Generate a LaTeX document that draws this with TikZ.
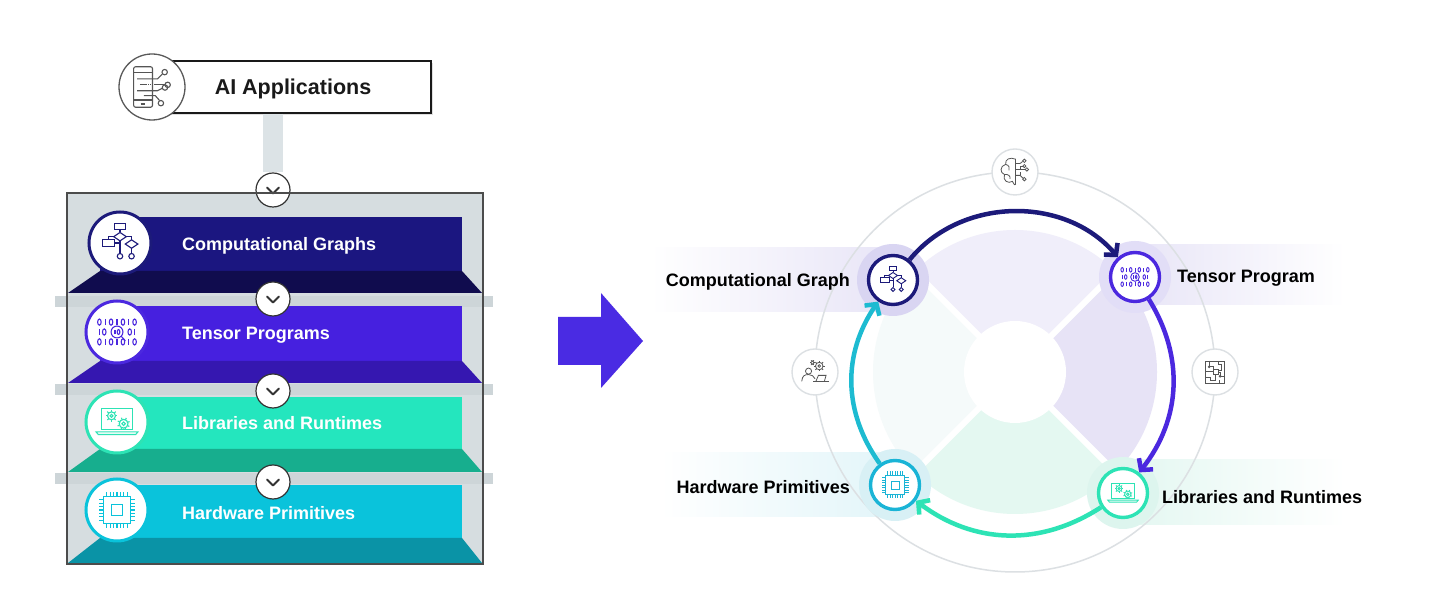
\documentclass[tikz,border=0pt]{standalone}
\usepackage{fontspec}
\setmainfont{Liberation Sans}
\usetikzlibrary{arrows.meta,shadows,calc}

\definecolor{navyc}{HTML}{1C1A7A}
\definecolor{purplec}{HTML}{4B28DF}
\definecolor{mintc}{HTML}{2DE3B5}
\definecolor{cyanc}{HTML}{1AB4D6}
\definecolor{lonec}{HTML}{1B1680}
\definecolor{lonet}{HTML}{100C4E}
\definecolor{ltwoc}{HTML}{4620DF}
\definecolor{ltwot}{HTML}{3517B0}
\definecolor{lthreec}{HTML}{24E6BE}
\definecolor{lthreet}{HTML}{17AE8E}
\definecolor{lfourc}{HTML}{0AC3DB}
\definecolor{lfourt}{HTML}{0A93A6}
\definecolor{framegray}{HTML}{D6DDE0}
\definecolor{bargray}{HTML}{CDD5D8}
\definecolor{connbar}{HTML}{DCE3E6}
\definecolor{bigarrowc}{HTML}{4A2BE3}
\definecolor{ringgray}{HTML}{DCE0E3}
\definecolor{quadtop}{HTML}{F0EEFA}
\definecolor{quadright}{HTML}{E7E3F6}
\definecolor{quadbottom}{HTML}{E4F8F1}
\definecolor{quadleft}{HTML}{F5FAFA}
\definecolor{bandlav}{HTML}{E8E5F7}
\definecolor{bandmint}{HTML}{E3F7F1}
\definecolor{bandcyan}{HTML}{E2F5F9}
\definecolor{halonavy}{HTML}{D9D5F2}
\definecolor{halopurple}{HTML}{E2DEF7}
\definecolor{halomint}{HTML}{DDF5EE}
\definecolor{halocyan}{HTML}{D8F0F5}
\definecolor{icongray}{HTML}{555555}

\tikzset{
  framebox/.style={rectangle, fill=framegray, minimum width=416pt, minimum height=371pt, inner sep=0pt},
  frameborder/.style={draw=black!70, line width=2.5pt},
  chev/.style={circle, draw=black!80, line width=1.2pt, fill=white, minimum size=34pt, inner sep=0pt,
    path picture={\draw[line width=2pt, line cap=round, line join=round]
      ($(path picture bounding box.center)+(-6pt,2.5pt)$) -- ++(6pt,-6pt) -- ++(6pt,6pt);}},
  licon/.style={circle, draw=#1, line width=3pt, fill=white, minimum size=62pt, inner sep=0pt},
  rnode/.style={circle, draw=#1, line width=3.4pt, fill=white, minimum size=49pt, inner sep=0pt},
  halo/.style={circle, fill=#1, minimum size=72pt, inner sep=0pt},
  oicon/.style={circle, draw=ringgray, line width=1.4pt, fill=white, minimum size=46pt, inner sep=0pt},
  ltext/.style={anchor=west, text=white, font=\fontsize{18}{20}\selectfont\bfseries, inner sep=0pt},
  rtext/.style={text=black, font=\fontsize{18}{20}\selectfont\bfseries, inner sep=0pt},
  aibox/.style={rectangle, draw=black!90, line width=1.8pt, fill=white, minimum width=263pt, minimum height=52pt,
    drop shadow={shadow xshift=2pt, shadow yshift=-2pt, opacity=0.25}},
  aitext/.style={text=black!90, font=\fontsize{21.5}{24}\selectfont\bfseries, inner sep=0pt},
  cyc/.style={line width=4.5pt, -{Straight Barb[length=8pt, width=18pt]}},
  pics/flowicon/.style={code={
    \draw (-0.25,0.65) rectangle (0.25,0.92);
    \draw (0,0.65) -- (0,0.5);
    \draw (0,0.5) -- (0.3,0.3) -- (0,0.1) -- (-0.3,0.3) -- cycle;
    \draw (-0.3,0.3) -- (-0.55,0.3) -- (-0.55,0.15);
    \draw (-0.85,-0.15) rectangle (-0.25,0.15);
    \draw (0.3,0.3) -- (0.55,0.3) -- (0.55,0.15);
    \draw (0.55,0.15) -- (0.85,-0.05) -- (0.55,-0.25) -- (0.25,-0.05) -- cycle;
    \draw (-0.25,0) -- (0,0) -- (0,-0.5);
    \draw (0,0.1) -- (0,0);
    \draw (0,-0.63) circle (0.13);
    \draw (0.55,-0.25) -- (0.55,-0.5);
    \draw (0.55,-0.63) circle (0.13);
  }},
  pics/binicon/.style={code={
    \foreach \yy in {0.45,-0.45}{
      \foreach \xx/\k in {-0.8/0,-0.53/1,-0.27/0,0/1,0.27/0,0.53/1,0.8/0}{
        \ifnum\k=0 \draw (\xx,\yy) ellipse (0.08 and 0.14);
        \else \draw (\xx,\yy-0.14) -- (\xx,\yy+0.14); \fi
      }}
    \foreach \xx/\k in {-0.8/1,-0.58/0,0.58/0,0.8/1}{
      \ifnum\k=0 \draw (\xx,0) ellipse (0.08 and 0.14);
      \else \draw (\xx,-0.14) -- (\xx,0.14); \fi
    }
    \draw[fill=white] (0,0) circle (0.27);
    \draw (-0.09,-0.11) -- (-0.09,0.11);
    \draw (0.07,0) ellipse (0.06 and 0.11);
    \draw (0.19,-0.19) -- (0.38,-0.4);
  }},
  pics/laptopicon/.style={code={
    \draw (-0.72,-0.35) rectangle (0.72,0.6);
    \draw (-0.95,-0.45) -- (0.95,-0.45) -- (0.85,-0.57) -- (-0.85,-0.57) -- cycle;
    \draw (-0.25,0.28) circle (0.18);
    \draw (-0.25,0.28) circle (0.07);
    \foreach \a in {0,45,...,315} \draw (-0.25,0.28) ++(\a:0.18) -- ++(\a:0.09);
    \draw (0.3,-0.08) circle (0.2);
    \draw (0.3,-0.08) circle (0.08);
    \foreach \a in {20,65,...,335} \draw (0.3,-0.08) ++(\a:0.2) -- ++(\a:0.09);
  }},
  pics/chipicon/.style={code={
    \draw (-0.55,-0.55) rectangle (0.55,0.55);
    \draw (-0.22,-0.22) rectangle (0.22,0.22);
    \foreach \t in {-0.42,-0.28,-0.14,0,0.14,0.28,0.42}{
      \draw (\t,0.55) -- (\t,0.75);
      \draw (\t,-0.55) -- (\t,-0.75);
      \draw (0.55,\t) -- (0.75,\t);
      \draw (-0.55,\t) -- (-0.75,\t);
    }
  }},
  pics/phoneicon/.style={code={
    \draw[rounded corners=2pt] (-0.68,-0.75) rectangle (0.02,0.75);
    \draw (-0.68,0.55) -- (0.02,0.55);
    \draw (-0.68,-0.48) -- (0.02,-0.48);
    \draw[line width=1.6pt] (-0.42,-0.62) -- (-0.26,-0.62);
    \draw (-0.55,0.3) -- (0.2,0.3) -- (0.38,0.48);
    \draw (0.47,0.55) circle (0.1);
    \draw (-0.45,0.08) -- (-0.2,0.08);
    \draw[densely dotted] (-0.15,0.08) -- (0.1,0.08);
    \draw (0.1,0.08) -- (0.48,0.08);
    \draw (0.58,0.08) circle (0.1);
    \draw (-0.55,-0.14) -- (0.2,-0.14) -- (0.38,-0.05);
    \draw (0.48,-0.02) circle (0.1);
    \draw (-0.3,-0.32) -- (0.12,-0.32) -- (0.28,-0.5);
    \draw (0.33,-0.6) circle (0.1);
  }},
  pics/brainicon/.style={code={
    \draw (0.05,0.75) .. controls (-0.3,0.9) and (-0.6,0.75) .. (-0.55,0.45)
      .. controls (-0.9,0.35) and (-0.9,-0.05) .. (-0.62,-0.15)
      .. controls (-0.75,-0.5) and (-0.4,-0.72) .. (-0.15,-0.55)
      .. controls (-0.05,-0.8) and (0.05,-0.78) .. (0.05,-0.72);
    \draw (0.05,0.75) -- (0.05,-0.72);
    \draw (-0.55,0.45) .. controls (-0.35,0.4) and (-0.3,0.25) .. (-0.35,0.1);
    \draw (-0.62,-0.15) .. controls (-0.4,-0.1) and (-0.25,-0.25) .. (-0.3,-0.4);
    \draw (0.05,0.5) -- (0.3,0.5) -- (0.45,0.62);
    \draw (0.55,0.66) circle (0.1);
    \draw (0.05,0.15) -- (0.6,0.15);
    \draw (0.7,0.15) circle (0.1);
    \draw (0.3,0.15) -- (0.3,0.35) -- (0.45,0.35);
    \draw (0.55,0.35) circle (0.09);
    \draw (0.05,-0.2) -- (0.3,-0.2) -- (0.45,-0.35);
    \draw (0.55,-0.42) circle (0.1);
    \draw (0.3,-0.2) -- (0.3,-0.02);
  }},
  pics/workicon/.style={code={
    \draw (-0.38,0.05) circle (0.18);
    \draw (-0.78,-0.55) .. controls (-0.75,-0.2) and (-0.6,-0.15) .. (-0.38,-0.15)
      .. controls (-0.2,-0.15) and (-0.05,-0.25) .. (0,-0.4);
    \draw (-0.1,-0.55) -- (0.8,-0.55);
    \draw (0.05,-0.55) -- (0.2,-0.2) -- (0.65,-0.2) -- (0.55,-0.55);
    \draw (0.25,0.35) circle (0.22);
    \draw (0.25,0.35) circle (0.08);
    \foreach \a in {0,45,...,315} \draw (0.25,0.35) ++(\a:0.22) -- ++(\a:0.1);
    \draw (-0.15,0.55) circle (0.1);
    \foreach \a in {0,60,...,300} \draw (-0.15,0.55) ++(\a:0.1) -- ++(\a:0.06);
  }},
  pics/boardicon/.style={code={
    \draw (-0.55,-0.65) rectangle (0.55,0.65);
    \draw (-0.12,-0.12) rectangle (0.18,0.18);
    \draw (-0.35,0.65) -- (-0.35,0.3) -- (-0.12,0.3) -- (-0.12,0.18);
    \draw (0.2,0.65) -- (0.2,0.45) -- (0.4,0.45) -- (0.4,0.1) -- (0.18,0.1);
    \draw (-0.55,0.05) -- (-0.12,0.05);
    \draw (-0.55,-0.3) -- (-0.3,-0.3) -- (-0.3,-0.5) -- (0,-0.5) -- (0,-0.12);
    \draw (0.55,-0.25) -- (0.3,-0.25) -- (0.3,-0.05) -- (0.18,-0.05);
    \draw (0.25,-0.65) -- (0.25,-0.45);
    \draw (-0.35,0.3) circle (0.05);
    \draw (0.3,-0.25) circle (0.05);
  }},
}

\begin{document}
\begin{tikzpicture}[x=1pt,y=1pt]
\useasboundingbox (0,0) rectangle (1440,615);
\fill[white] (0,0) rectangle (1440,615);

%% ---------------- LEFT: layered stack ----------------
\node[aibox] (aibox) at (299.5,528) {};
\node[framebox] (frame) at (275,236.5) {};
\foreach \yy in {313.5,225,136}{\fill[bargray] (55,\yy-5.5) rectangle (493,\yy+5.5);}
\node[chev] (c1) at (273,425) {};
\draw[connbar, line width=20pt] (aibox.south -| c1) -- (c1.north);

% layers
\fill[lonec] (100,344) rectangle (462,398);
\fill[lonet] (100,344) -- (462,344) -- (482,322) -- (68,322) -- cycle;
\fill[ltwoc] (100,254) rectangle (462,309);
\fill[ltwot] (100,254) -- (462,254) -- (482,232) -- (68,232) -- cycle;
\fill[lthreec] (100,166) rectangle (462,218);
\fill[lthreet] (100,166) -- (462,166) -- (482,143) -- (68,143) -- cycle;
\fill[lfourc] (100,77) rectangle (462,130);
\fill[lfourt] (100,77) -- (462,77) -- (482,52) -- (68,52) -- cycle;

\draw[frameborder] (frame.south west) rectangle (frame.north east);

% layer icons
\node[licon=navyc] (li1) at (120,372) {};
\pic[color=navyc, line width=1.1pt, scale=21] at (li1.center) {flowicon};
\node[licon=purplec] (li2) at (117,283) {};
\pic[color=purplec, line width=1.1pt, scale=22] at (li2.center) {binicon};
\node[licon=mintc] (li3) at (117,193) {};
\pic[color=mintc, line width=1.1pt, scale=22] at (li3.center) {laptopicon};
\node[licon=lfourc] (li4) at (117,105) {};
\pic[color=lfourc, line width=1.1pt, scale=24] at (li4.center) {chipicon};

% layer texts
\node[ltext] (lt1) at (182,369) {Computational Graphs};
\node[ltext] (lt2) at (182,280) {Tensor Programs};
\node[ltext] (lt3) at (182,192) {Libraries and Runtimes};
\node[ltext] (lt4) at (182,102) {Hardware Primitives};

% chevrons between layers
\node[chev] (c2) at (273,316) {};
\node[chev] (c3) at (273,224) {};
\node[chev] (c4) at (273,133) {};

% AI applications
\node[aitext] (aitext) at (293,526) {AI Applications};
\node[circle, draw=black!65, line width=1.3pt, fill=white, minimum size=66pt, inner sep=0pt] (aiicon) at (152,528) {};
\pic[color=icongray, line width=1.1pt, scale=27] at (aiicon.center) {phoneicon};

%% ---------------- big arrow ----------------
\fill[bigarrowc] (558,298) -- (601,298) -- (601,322) -- (643,274) -- (601,227) -- (601,250) -- (558,250) -- cycle;

%% ---------------- RIGHT: cycle ----------------
\coordinate (C) at (1015,243);
% label bands
\shade[left color=white, right color=bandlav] (650,303) rectangle (893,367);
\shade[left color=bandlav, right color=white] (1135,310) rectangle (1345,370);
\shade[left color=white, right color=bandcyan] (660,98) rectangle (895,162);
\shade[left color=bandmint, right color=white] (1123,90) rectangle (1345,155);

\draw[ringgray, line width=1.5pt] (C) circle (200);

% quadrants
\fill[quadtop] (C) -- ++(45:142) arc (45:135:142) -- cycle;
\fill[quadright] (C) -- ++(-45:142) arc (-45:45:142) -- cycle;
\fill[quadbottom] (C) -- ++(-135:142) arc (-135:-45:142) -- cycle;
\fill[quadleft] (C) -- ++(135:142) arc (135:225:142) -- cycle;
\foreach \a in {45,135,225,315} \draw[white, line width=6pt] (C) -- ++(\a:146);
\fill[white] (C) circle (51);

% outer small icons
\node[oicon] (otop) at (1015,443) {};
\pic[color=icongray, line width=0.8pt, scale=17] at (otop.center) {brainicon};
\node[oicon] (oleft) at (815,243) {};
\pic[color=icongray, line width=0.8pt, scale=17] at (oleft.center) {workicon};
\node[oicon] (oright) at (1215,243) {};
\pic[color=icongray, line width=0.8pt, scale=17] at (oright.center) {boardicon};

% halos
\node[halo=halonavy] (hcg) at (893,335) {};
\node[halo=halopurple] (htp) at (1135,338) {};
\node[halo=halomint] (hlr) at (1123,122) {};
\node[halo=halocyan] (hhw) at (895,130) {};

% nodes
\node[rnode=navyc] (cg) at (893,335) {};
\node[rnode=purplec] (tp) at (1135,338) {};
\node[rnode=mintc] (lr) at (1123,122) {};
\node[rnode=cyanc] (hw) at (895,130) {};
\pic[color=navyc, line width=0.9pt, scale=15] at (cg.center) {flowicon};
\pic[color=purplec, line width=0.9pt, scale=16] at (tp.center) {binicon};
\pic[color=mintc, line width=0.9pt, scale=16] at (lr.center) {laptopicon};
\pic[color=cyanc, line width=0.9pt, scale=18] at (hw.center) {chipicon};

% cycle arrows
\draw[cyc, navyc] (cg) to[bend left=50] (tp);
\draw[cyc, purplec] (tp) to[bend left=35] (lr);
\draw[cyc, mintc] (lr) to[bend left=35] (hw);
\draw[cyc, cyanc!85!mintc] (hw) to[bend left=35] (cg);

% labels
\node[rtext, anchor=east] (lcg) at (850,333) {Computational Graph};
\node[rtext, anchor=west] (ltp) at (1177,337) {Tensor Program};
\node[rtext, anchor=east] (lhw) at (850,128) {Hardware Primitives};
\node[rtext, anchor=west] (llr) at (1162,118) {Libraries and Runtimes};
\end{tikzpicture}
\end{document}
